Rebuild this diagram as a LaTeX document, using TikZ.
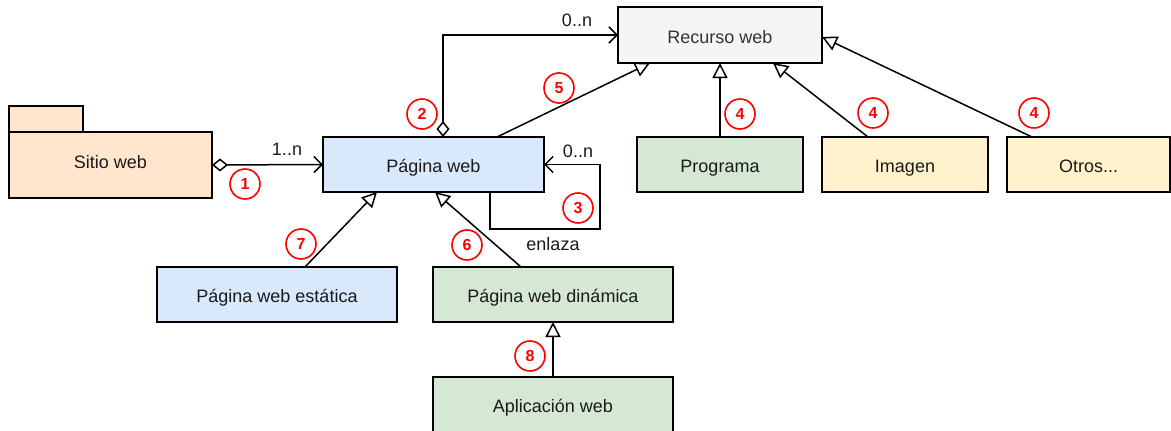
\documentclass[tikz,border=0pt]{standalone}
\usepackage{fontspec}
\setmainfont{Liberation Sans}
\usetikzlibrary{arrows.meta}
\definecolor{orangef}{HTML}{FFE6CC}
\definecolor{bluef}{HTML}{DAE8FC}
\definecolor{greyf}{HTML}{F5F5F5}
\definecolor{greyt}{HTML}{333333}
\definecolor{greenf}{HTML}{D5E8D4}
\definecolor{yellowf}{HTML}{FFF2CC}
\definecolor{txt}{HTML}{1A1A1A}
\tikzset{
  box/.style={draw=black, line width=1.5pt, rectangle, inner sep=0pt, outer sep=0pt,
    font=\fontsize{18}{21}\selectfont, text=txt, text height=16pt, text depth=0pt},
  lbl/.style={font=\fontsize{18}{21}\selectfont, text=txt, inner sep=0pt},
  num/.style={draw=red, line width=1.6pt, circle, minimum size=30pt, inner sep=0pt,
    text=red, font=\fontsize{16}{18}\selectfont\bfseries},
  conn/.style={line width=1.5pt, draw=black},
  assoc/.style={conn, {Diamond[open, fill=white, length=16pt, width=13pt, line width=1.5pt]}-{Straight Barb[length=8pt, width=16pt, line width=1.5pt]}},
  gen/.style={conn, -{Triangle[open, fill=white, length=15pt, width=15pt, line width=1.5pt]}},
  nav/.style={conn, -{Straight Barb[length=8pt, width=16pt, line width=1.5pt]}},
}
\begin{document}
\begin{tikzpicture}[x=1pt, y=-1pt]
\useasboundingbox (0,0) rectangle (1171,431);
% nodes
\node[box, fill=orangef, minimum width=74pt, minimum height=26pt] (tab) at (46,119) {};
\node[box, fill=orangef, minimum width=203pt, minimum height=66pt, text height=7pt] (sitio) at (110.5,165) {Sitio web};
\node[box, fill=bluef, minimum width=221pt, minimum height=55pt] (pagina) at (433.5,164.5) {Página web};
\node[box, fill=greyf, text=greyt, minimum width=204pt, minimum height=56pt] (recurso) at (720,35) {Recurso web};
\node[box, fill=greenf, minimum width=166pt, minimum height=55pt] (programa) at (720,164.5) {Programa};
\node[box, fill=yellowf, minimum width=166pt, minimum height=55pt] (imagen) at (905,164.5) {Imagen};
\node[box, fill=yellowf, minimum width=163pt, minimum height=55pt] (otros) at (1088.5,164.5) {Otros...};
\node[box, fill=bluef, minimum width=240pt, minimum height=55pt] (estatica) at (277,294.5) {Página web estática};
\node[box, fill=greenf, minimum width=240pt, minimum height=55pt] (dinamica) at (553,294.5) {Página web dinámica};
\node[box, fill=greenf, minimum width=240pt, minimum height=55pt] (aplicacion) at (553,404.5) {Aplicación web};
\coordinate (loopc) at (600,229);
% connectors
\draw[assoc] (sitio.east) -- (pagina.west);
\draw[assoc] ([xshift=9.5pt]pagina.north) |- (recurso.west);
\draw[nav] ([xshift=56.5pt]pagina.south) |- (loopc) |- (pagina.east);
\draw[gen] ([xshift=63.5pt]pagina.north) -- ([xshift=-70pt]recurso.south);
\draw[gen] (programa.north) -- (recurso.south);
\draw[gen] ([xshift=-37pt]imagen.north) -- ([xshift=53pt]recurso.south);
\draw[gen] ([xshift=-56.5pt]otros.north) -- ([yshift=-2pt]recurso.east);
\draw[gen] ([xshift=28pt]estatica.north) -- ([xshift=-56.5pt]pagina.south);
\draw[gen] ([xshift=-32pt]dinamica.north) -- ([xshift=1.5pt]pagina.south);
\draw[gen] (aplicacion.north) -- (dinamica.south);
% labels
\node[lbl] (l1) at (287,149) {1..n};
\node[lbl] (l2) at (577,20) {0..n};
\node[lbl] (l3) at (578,151) {0..n};
\node[lbl] (l4) at (553,244) {enlaza};
% numbers
\node[num] (n1) at (245,184) {1};
\node[num] (n2) at (422,114) {2};
\node[num] (n3) at (578,208) {3};
\node[num] (n4a) at (740,114) {4};
\node[num] (n4b) at (873,113) {4};
\node[num] (n4c) at (1034,113) {4};
\node[num] (n5) at (559,88) {5};
\node[num] (n6) at (467,245) {6};
\node[num] (n7) at (301,244) {7};
\node[num] (n8) at (530,356) {8};
\end{tikzpicture}
\end{document}
